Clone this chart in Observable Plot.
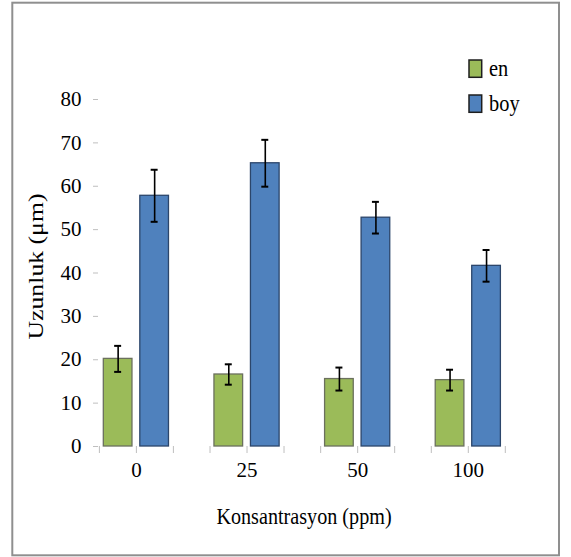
<!DOCTYPE html>
<html><head><meta charset="utf-8">
<script src="https://cdn.jsdelivr.net/npm/d3@7"></script>
<script src="https://cdn.jsdelivr.net/npm/@observablehq/plot@0.6"></script>
<style>
body{margin:0;background:#fff}
#chart{position:relative;width:571px;height:557px}
</style>
</head><body><div id="chart"></div>
<script>
const concentrations = ["0", "25", "50", "100"];
const seriesNames = ["en", "boy"];
const seriesColors = ["#9BBB59", "#4F81BD"];
const seriesStrokes = ["#6b705e", "#2c466b"];
const enValues = [20.2, 16.6, 15.55, 15.3];
const enErrors = [3.0, 2.35, 2.65, 2.4];
const boyValues = [57.8, 65.3, 52.75, 41.65];
const boyErrors = [6.0, 5.4, 3.65, 3.65];
const yTicks = [0, 10, 20, 30, 40, 50, 60, 70, 80];
const xTitle = "Konsantrasyon (ppm)";
const yTitle = "Uzunluk (μm)";

const en = concentrations.map((c, i) => ({c, v: enValues[i], e: enErrors[i]}));
const boy = concentrations.map((c, i) => ({c, v: boyValues[i], e: boyErrors[i]}));

const FONT = "Liberation Serif";
const axisGray = "#bfbfbf";

const plot = Plot.plot({
  width: 571,
  height: 557,
  marginLeft: 98,
  marginRight: 65.3,
  marginTop: 99,
  marginBottom: 111,
  style: {background: "transparent", color: "black", overflow: "visible", fontFamily: FONT, fontSize: "21px"},
  x: {domain: concentrations, paddingInner: 0.411, paddingOuter: 0.048, round: false, label: null},
  y: {domain: [0, 80], label: null},
  marks: [
    Plot.barY(en, {x: "c", y: "v", fill: seriesColors[0], stroke: seriesStrokes[0], strokeWidth: 1.3, insetRight: 36.5}),
    Plot.barY(boy, {x: "c", y: "v", fill: seriesColors[1], stroke: seriesStrokes[1], strokeWidth: 1.3, insetLeft: 36.5}),
    Plot.ruleX(en, {x: "c", y1: d => d.v - d.e, y2: d => d.v + d.e, dx: -18.25, stroke: "black", strokeWidth: 1.6}),
    Plot.ruleX(boy, {x: "c", y1: d => d.v - d.e, y2: d => d.v + d.e, dx: 18.25, stroke: "black", strokeWidth: 1.6}),
    Plot.tickY(en, {x: "c", y: d => d.v + d.e, insetLeft: 10.85, insetRight: 47.35, stroke: "black", strokeWidth: 2}),
    Plot.tickY(en, {x: "c", y: d => d.v - d.e, insetLeft: 10.85, insetRight: 47.35, stroke: "black", strokeWidth: 2}),
    Plot.tickY(boy, {x: "c", y: d => d.v + d.e, insetLeft: 47.35, insetRight: 10.85, stroke: "black", strokeWidth: 2}),
    Plot.tickY(boy, {x: "c", y: d => d.v - d.e, insetLeft: 47.35, insetRight: 10.85, stroke: "black", strokeWidth: 2}),
    Plot.axisY({ticks: yTicks, tickSize: 5, tickPadding: 12, stroke: axisGray, fill: "black", label: null, line: true, fontSize: 21}),
    Plot.axisX({tickSize: 7, tickPadding: 9, stroke: axisGray, fill: "black", label: null, line: true, fontSize: 21}),
    Plot.axisX({tickSize: 7, tickFormat: () => "", stroke: axisGray, label: null, dx: -37}),
    Plot.axisX({tickSize: 7, tickFormat: () => "", stroke: axisGray, label: null, dx: 37})
  ]
});

document.getElementById("chart").append(plot);
const svg = d3.select(plot);

svg.selectAll("text").style("font-family", FONT);

// outer border
svg.insert("rect", ":first-child")
  .attr("x", 12.3).attr("y", 2.7).attr("width", 546.7).attr("height", 552.6)
  .attr("fill", "white").attr("stroke", "#8f8f8f").attr("stroke-width", 2);

// axis titles (condensed horizontally like the reference)
svg.append("text")
  .attr("transform", "translate(304,524) scale(0.84,1)").attr("text-anchor", "middle")
  .attr("fill", "black").style("font-family", FONT).style("font-size", "24px").text(xTitle);

svg.append("text")
  .attr("transform", "translate(43,266.5) rotate(-90) scale(1.17,1)").attr("text-anchor", "middle")
  .attr("fill", "black").style("font-family", FONT).style("font-size", "22px").text(yTitle);

// legend
const legendRowY = [60, 95];
seriesNames.forEach((name, i) => {
  svg.append("rect")
    .attr("x", 469).attr("y", legendRowY[i]).attr("width", 12.7).attr("height", 17.3)
    .attr("fill", seriesColors[i]).attr("stroke", "#1e1e1e").attr("stroke-width", 1.5);
  svg.append("text")
    .attr("transform", `translate(489,${legendRowY[i] + 15.5}) scale(0.85,1)`).attr("text-anchor", "start")
    .attr("fill", "black").style("font-family", FONT).style("font-size", "24px").text(name);
});
</script>
</body></html>
